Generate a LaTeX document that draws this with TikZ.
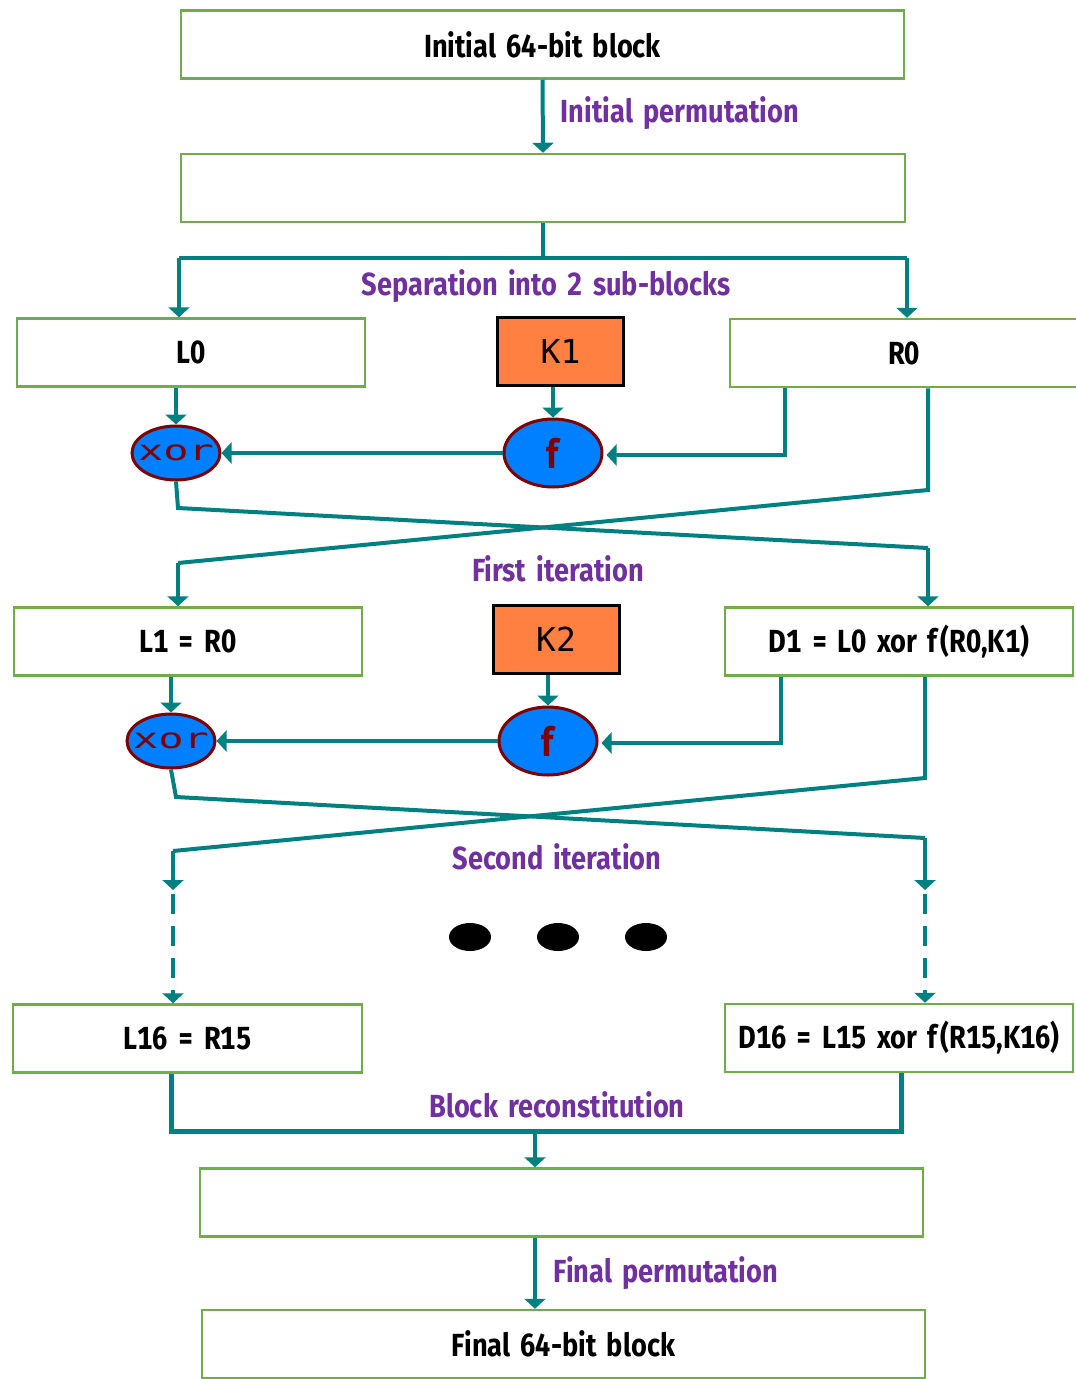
\documentclass[tikz,border=0pt]{standalone}
\usepackage{fontspec}
\usepackage{graphicx}
\setmainfont{Fira Sans}[FakeStretch=0.85, Numbers=Monospaced, WordSpace=1.6]
\newfontfamily\keyfont{DejaVu Sans Mono}
\usetikzlibrary{arrows.meta,shapes.geometric}

\definecolor{boxgreen}{HTML}{70AD47}
\definecolor{linkteal}{HTML}{008080}
\definecolor{labelpurple}{HTML}{7030A0}
\definecolor{keyorange}{HTML}{FF8040}
\definecolor{opblue}{HTML}{0080FF}
\definecolor{opred}{HTML}{800000}

\newcommand\xortext{\makebox[0pt]{\scalebox{1.5}[1]{xor}}}

\tikzset{
  blockbox/.style={draw=boxgreen, line width=2.5pt, fill=white, inner sep=0pt,
    minimum height=68pt, font=\bfseries\fontsize{32}{38}\selectfont},
  keybox/.style={draw=black, line width=3pt, fill=keyorange, inner sep=0pt,
    minimum width=126pt, minimum height=68pt, font=\keyfont\fontsize{33}{36}\selectfont},
  opnode/.style={ellipse, draw=opred, line width=3pt, fill=opblue, inner sep=0pt,
    text=opred},
  link/.style={draw=linkteal, line width=4pt},
  linkarrow/.style={link, -{Triangle[width=21pt,length=10pt]}},
  steplabel/.style={text=labelpurple, font=\bfseries\fontsize{32}{38}\selectfont},
}

\begin{document}
\begin{tikzpicture}[x=1pt, y=-1pt]
  \useasboundingbox (0,0) rectangle (1076,1379);

  % blocks
  \node[blockbox, minimum width=723pt] (init) at (542.5,44.5) {Initial 64-bit block};
  \node[blockbox, minimum width=724pt] (perm) at (543,188) {};
  \node[blockbox, minimum width=348pt] (L0) at (191,352.5) {L0};
  \node[blockbox, minimum width=348pt] (R0) at (904,353) {R0};
  \node[keybox] (K1) at (560.5,351.5) {K1};
  \node[opnode, minimum width=98pt, minimum height=68pt, font=\bfseries\fontsize{40}{40}\selectfont] (f1) at (553,453) {f};
  \node[opnode, minimum width=88pt, minimum height=54pt, font=\keyfont\fontsize{28}{28}\selectfont] (xor1) at (176,453) {\xortext};

  \node[blockbox, minimum width=348pt] (L1) at (188,641.5) {L1 = R0};
  \node[blockbox, minimum width=348pt] (D1) at (899,641.5) {D1 = L0 xor f\kern3pt(R0,K1)};
  \node[keybox] (K2) at (556,639) {K2};
  \node[opnode, minimum width=98pt, minimum height=68pt, font=\bfseries\fontsize{40}{40}\selectfont] (f2) at (548,741) {f};
  \node[opnode, minimum width=88pt, minimum height=54pt, font=\keyfont\fontsize{28}{28}\selectfont] (xor2) at (171,741) {\xortext};

  \node[blockbox, minimum width=349pt] (L16) at (187.5,1038.5) {L16 = R15};
  \node[blockbox, minimum width=348pt] (D16) at (899,1038) {D16 = L15 xor f\kern3pt(R15,K16)};
  \node[blockbox, minimum width=723pt] (recon) at (561.5,1202.5) {};
  \node[blockbox, minimum width=723pt] (final) at (563.5,1344) {Final 64-bit block};

  % labels
  \node[steplabel] (lbinit) at (680,113) {Initial permutation};
  \node[steplabel] (lbsep) at (546,286) {Separation into 2 sub-blocks};
  \node[steplabel] (lbfirst) at (558,569) {First iteration};
  \node[steplabel] (lbsecond) at (557,857) {Second iteration};
  \node[steplabel] (lbrecon) at (557,1105) {Block reconstitution};
  \node[steplabel] (lbfinal) at (666,1273) {Final permutation};

  % corner points
  \coordinate (splitL) at (179,258);
  \coordinate (splitR) at (907,258);
  \coordinate (r0turn) at (785,455);
  \coordinate (d1turn) at (781,743);
  \coordinate (crossA1) at (178,508);
  \coordinate (crossA2) at (928,548);
  \coordinate (crossB1) at (928,490);
  \coordinate (crossB2) at (178,563);
  \coordinate (crossC1) at (176,797);
  \coordinate (crossC2) at (925,838);
  \coordinate (crossD1) at (925,778);
  \coordinate (crossD2) at (173,851);
  \coordinate (gapL) at (173,890);
  \coordinate (gapR) at (925,890);
  \coordinate (joinL) at (171,1131);
  \coordinate (joinR) at (901,1131);
  \coordinate (joinM) at (535,1131);

  % permutation and split
  \draw[linkarrow] (init.south) -- (perm.north);
  \draw[link] (perm.south) |- (splitL);
  \draw[link] (perm.south) |- (splitR);
  \draw[linkarrow] (splitL) -- (splitL |- L0.north);
  \draw[linkarrow] (splitR) -- (splitR |- R0.north);

  % first round
  \draw[linkarrow] (K1.south -| f1.north) -- (f1.north);
  \draw[linkarrow] (L0.south -| xor1.north) -- (xor1.north);
  \draw[linkarrow] (r0turn |- R0.south) -- (r0turn) -- ([xshift=3pt]f1.east |- r0turn);
  \draw[linkarrow] (f1.west) -- (xor1.east);
  \draw[link] (xor1.south) -- (crossA1) -- (crossA2);
  \draw[linkarrow] (crossA2) -- (crossA2 |- D1.north);
  \draw[link] (crossB1 |- R0.south) -- (crossB1) -- (crossB2);
  \draw[linkarrow] (crossB2) -- (crossB2 |- L1.north);

  % second round
  \draw[linkarrow] (K2.south -| f2.north) -- (f2.north);
  \draw[linkarrow] (L1.south -| xor2.north) -- (xor2.north);
  \draw[linkarrow] (d1turn |- D1.south) -- (d1turn) -- ([xshift=3pt]f2.east |- d1turn);
  \draw[linkarrow] (f2.west) -- (xor2.east);
  \draw[link] (xor2.south) -- (crossC1) -- (crossC2);
  \draw[linkarrow] (crossC2) -- (gapR);
  \draw[link] (crossD1 |- D1.south) -- (crossD1) -- (crossD2);
  \draw[linkarrow] (crossD2) -- (gapL);
  \draw[linkarrow, dash pattern=on 20pt off 12pt, dash phase=-4pt] (gapL) -- (gapL |- L16.north);
  \draw[linkarrow, dash pattern=on 20pt off 12pt, dash phase=-4pt] (gapR) -- (gapR |- D16.north);

  % more rounds
  \foreach \dx in {470,558,646}
    \fill (\dx,937) ellipse (21 and 14);

  % reconstitution
  \draw[link, line width=5pt] (L16.south -| joinL) |- (joinR) -- (joinR |- D16.south);
  \draw[linkarrow] (joinM) -- (joinM |- recon.north);
  \draw[linkarrow] (recon.south -| joinM) -- (final.north -| joinM);
\end{tikzpicture}
\end{document}
